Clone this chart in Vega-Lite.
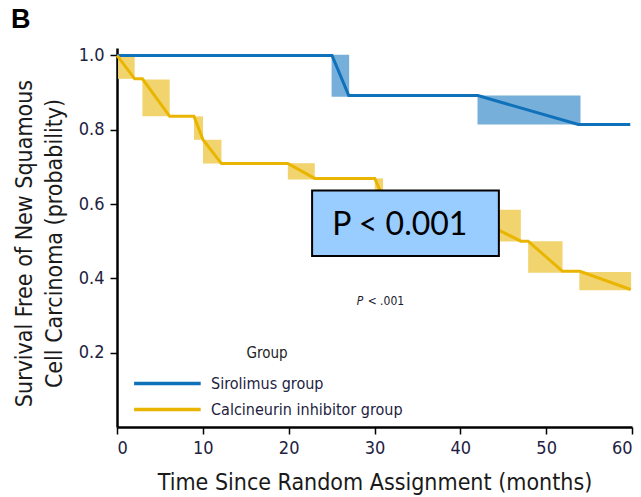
{
  "$schema": "https://vega.github.io/schema/vega-lite/v6.json",
  "width": 515,
  "height": 379,
  "autosize": {"type": "none"},
  "padding": {"left": 117, "top": 48, "right": 9, "bottom": 70},
  "background": "white",
  "title": {"text": "B", "anchor": "start", "frame": "group", "dx": -106, "offset": 12, "fontSize": 27, "fontWeight": "bold", "font": "Liberation Sans", "color": "black"},
  "config": {
    "view": {"stroke": null},
    "axis": {"grid": false, "domainColor": "black", "domainWidth": 2.5, "tickColor": "black", "tickWidth": 1.5, "tickSize": 7, "labelFont": "Liberation Sans Narrow, DejaVu Sans Condensed, Roboto Condensed, Liberation Sans, sans-serif", "labelColor": "#22223f", "titleFont": "Liberation Sans Narrow, DejaVu Sans Condensed, Roboto Condensed, Liberation Sans, sans-serif", "titleFontWeight": "normal", "titleColor": "#1a1a1a"},
    "legend": {"orient": "none", "legendX": 15, "legendY": 298, "titleAnchor": "middle", "titleFont": "Liberation Sans Narrow, DejaVu Sans Condensed, Liberation Sans, sans-serif", "titleFontSize": 15, "titleFontWeight": "normal", "titleColor": "#222", "titlePadding": 13, "labelFont": "Liberation Sans Narrow, DejaVu Sans Condensed, Liberation Sans, sans-serif", "labelFontSize": 16, "labelColor": "#22223f", "labelLimit": 400, "symbolType": "M-1,0H8", "symbolSize": 219, "symbolStrokeWidth": 3.5, "rowPadding": 8, "padding": 0, "labelOffset": 60}
  },
  "datasets": {
    "line": [
      {"g": "Sirolimus group", "m": 0, "p": 1.0},
      {"g": "Sirolimus group", "m": 25.05, "p": 1.0},
      {"g": "Sirolimus group", "m": 27.0, "p": 0.892},
      {"g": "Sirolimus group", "m": 42.05, "p": 0.892},
      {"g": "Sirolimus group", "m": 53.75, "p": 0.814},
      {"g": "Sirolimus group", "m": 59.8, "p": 0.814},
      {"g": "Calcineurin inhibitor group", "m": 0, "p": 1.0},
      {"g": "Calcineurin inhibitor group", "m": 2.06, "p": 0.937},
      {"g": "Calcineurin inhibitor group", "m": 2.96, "p": 0.937},
      {"g": "Calcineurin inhibitor group", "m": 6.14, "p": 0.836},
      {"g": "Calcineurin inhibitor group", "m": 8.97, "p": 0.836},
      {"g": "Calcineurin inhibitor group", "m": 10.02, "p": 0.773},
      {"g": "Calcineurin inhibitor group", "m": 12.17, "p": 0.709},
      {"g": "Calcineurin inhibitor group", "m": 19.9, "p": 0.709},
      {"g": "Calcineurin inhibitor group", "m": 23.04, "p": 0.669},
      {"g": "Calcineurin inhibitor group", "m": 30.03, "p": 0.669},
      {"g": "Calcineurin inhibitor group", "m": 31.0, "p": 0.618},
      {"g": "Calcineurin inhibitor group", "m": 36.45, "p": 0.618},
      {"g": "Calcineurin inhibitor group", "m": 38.2, "p": 0.586},
      {"g": "Calcineurin inhibitor group", "m": 39.6, "p": 0.586},
      {"g": "Calcineurin inhibitor group", "m": 47.05, "p": 0.5},
      {"g": "Calcineurin inhibitor group", "m": 47.9, "p": 0.5},
      {"g": "Calcineurin inhibitor group", "m": 51.91, "p": 0.419},
      {"g": "Calcineurin inhibitor group", "m": 53.93, "p": 0.419},
      {"g": "Calcineurin inhibitor group", "m": 59.84, "p": 0.37}
    ],
    "ciS": [
      {"m": 25.0, "m2": 27.05, "p": 1.002, "p2": 0.889},
      {"m": 42.0, "m2": 54.0, "p": 0.892, "p2": 0.814}
    ],
    "ciC": [
      {"m": 0.12, "m2": 2.06, "p": 1.0, "p2": 0.937},
      {"m": 2.96, "m2": 6.14, "p": 0.935, "p2": 0.836},
      {"m": 8.97, "m2": 10.02, "p": 0.836, "p2": 0.773},
      {"m": 10.02, "m2": 12.17, "p": 0.773, "p2": 0.709},
      {"m": 19.9, "m2": 23.04, "p": 0.71, "p2": 0.666},
      {"m": 30.03, "m2": 31.0, "p": 0.669, "p2": 0.618},
      {"m": 36.45, "m2": 38.2, "p": 0.618, "p2": 0.586},
      {"m": 39.6, "m2": 47.05, "p": 0.585, "p2": 0.4995},
      {"m": 47.9, "m2": 51.91, "p": 0.5, "p2": 0.415},
      {"m": 53.86, "m2": 59.9, "p": 0.417, "p2": 0.368}
    ],
    "box": [{"m": 22.73, "m2": 44.49, "p": 0.4599, "p2": 0.6367}],
    "boxtext": [{"m": 32.95, "p": 0.5156, "t": "P < 0.001"}],
    "pital": [{"m": 27.94, "p": 0.338, "t": "P"}],
    "prest": [{"m": 29.2, "p": 0.338, "t": "< .001"}]
  },
  "encoding": {
    "x": {"field": "m", "type": "quantitative", "scale": {"domain": [0, 60], "nice": false, "zero": false},
      "axis": {"values": [0, 10, 20, 30, 40, 50, 60], "labelFontSize": 18, "labelPadding": 5, "title": "Time Since Random Assignment (months)", "titleFontSize": 23, "titlePadding": 14}},
    "y": {"field": "p", "type": "quantitative", "scale": {"domain": [0, 1.02], "nice": false, "zero": false},
      "axis": {"values": [0.2, 0.4, 0.6, 0.8, 1.0], "format": ".1f", "labelFontSize": 18, "labelPadding": 6, "title": ["Survival Free of New Squamous", "Cell Carcinoma (probability)"], "titleFontSize": 23, "titleLineHeight": 30, "titlePadding": 12, "titleY": 195}}
  },
  "layer": [
    {
      "data": {"name": "ciS"},
      "mark": {"type": "rect", "fill": "#76afd9"},
      "encoding": {"x2": {"field": "m2"}, "y2": {"field": "p2"}}
    },
    {
      "data": {"name": "ciC"},
      "mark": {"type": "rect", "fill": "#f2d46f"},
      "encoding": {"x2": {"field": "m2"}, "y2": {"field": "p2"}}
    },
    {
      "data": {"name": "line"},
      "mark": {"type": "line", "strokeWidth": 3},
      "encoding": {
        "color": {"field": "g", "type": "nominal", "sort": ["Sirolimus group", "Calcineurin inhibitor group"],
          "scale": {"domain": ["Sirolimus group", "Calcineurin inhibitor group"], "range": ["#0f71b9", "#e9b500"]},
          "legend": {"title": "Group"}}
      }
    },
    {
      "data": {"name": "box"},
      "mark": {"type": "rect", "fill": "#99ccff", "stroke": "black", "strokeWidth": 2},
      "encoding": {"x2": {"field": "m2"}, "y2": {"field": "p2"}}
    },
    {
      "data": {"name": "boxtext"},
      "mark": {"type": "text", "font": "Lato", "fontSize": 32, "align": "center", "baseline": "alphabetic", "color": "black"},
      "encoding": {"text": {"field": "t"}}
    },
    {
      "data": {"name": "pital"},
      "mark": {"type": "text", "font": "Liberation Sans Narrow, DejaVu Sans Condensed, Liberation Sans, sans-serif", "fontSize": 12, "fontStyle": "italic", "align": "left", "baseline": "middle", "color": "#1a1a2e"},
      "encoding": {"text": {"field": "t"}}
    },
    {
      "data": {"name": "prest"},
      "mark": {"type": "text", "font": "Liberation Sans Narrow, DejaVu Sans Condensed, Liberation Sans, sans-serif", "fontSize": 12, "align": "left", "baseline": "middle", "color": "#1a1a2e"},
      "encoding": {"text": {"field": "t"}}
    }
  ]
}
